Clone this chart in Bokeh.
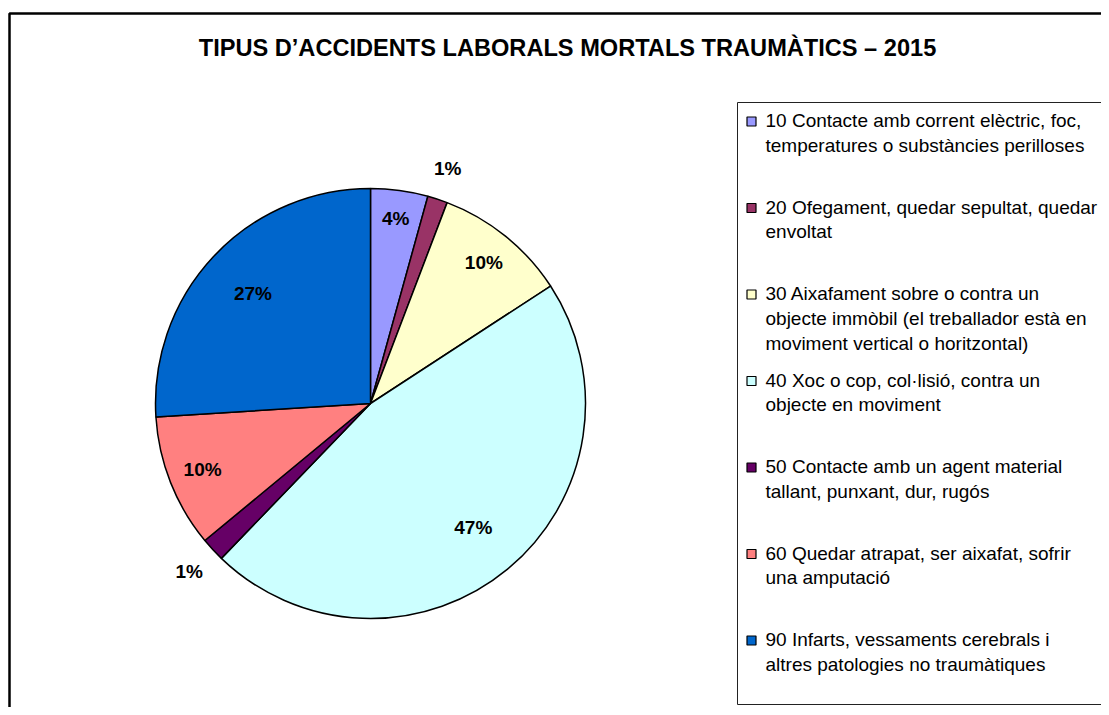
import numpy as np
from bokeh.plotting import figure
from bokeh.models import Range1d, ColumnDataSource
from bokeh.core.properties import value
from bokeh.embed import file_html
from bokeh.resources import INLINE

# ---- data ----
title = "TIPUS D\u2019ACCIDENTS LABORALS MORTALS TRAUM\u00c0TICS \u2013 2015"
categories = [
    "10 Contacte amb corrent el\u00e8ctric, foc,\ntemperatures o subst\u00e0ncies perilloses",
    "20 Ofegament, quedar sepultat, quedar\nenvoltat",
    "30 Aixafament sobre o contra un\nobjecte imm\u00f2bil (el treballador est\u00e0 en\nmoviment vertical o horitzontal)",
    "40 Xoc o cop, col\u00b7lisi\u00f3, contra un\nobjecte en moviment",
    "50 Contacte amb un agent material\ntallant, punxant, dur, rug\u00f3s",
    "60 Quedar atrapat, ser aixafat, sofrir\nuna amputaci\u00f3",
    "90 Infarts, vessaments cerebrals i\naltres patologies no traum\u00e0tiques",
]
shares = [4.3, 1.5, 10.0, 46.4, 1.8, 10.0, 26.0]
pct_labels = ["4%", "1%", "10%", "47%", "1%", "10%", "27%"]
colors = ["#9999FF", "#993366", "#FFFFCC", "#CCFFFF", "#660066", "#FF8080", "#0066CC"]

W, H = 1101, 707
FONT = "Liberation Sans"

p = figure(width=W, height=H, output_backend="svg", toolbar_location=None,
           x_range=Range1d(0, W), y_range=Range1d(H, 0), min_border=0)
p.axis.visible = False
p.grid.visible = False
p.outline_line_color = None
p.background_fill_color = "white"
p.border_fill_color = "white"

# outer chart frame
p.quad(left=[9], right=[W + 200], top=[13], bottom=[H + 200], fill_color=None,
       line_color="black", line_width=2.5)

# title
p.text(x=[567], y=[47], text=[title], text_font=value(FONT), text_font_style="bold",
       text_font_size="23.6px", text_align="center", text_baseline="middle", text_color="black")

# pie
cx, cy, r = 370, 403, 215
sh = np.array(shares)
frac = sh / sh.sum()
cum = np.concatenate([[0], np.cumsum(frac)])
start = np.pi / 2 - 2 * np.pi * cum[:-1]
end = np.pi / 2 - 2 * np.pi * cum[1:]
src = ColumnDataSource(dict(start=start, end=end, color=colors))
p.wedge(x=cx, y=cy, radius=r, start_angle="start", end_angle="end", direction="clock",
        fill_color="color", line_color="black", line_width=1.5, source=src)

mid = (cum[:-1] + cum[1:]) / 2
theta = np.pi / 2 - 2 * np.pi * mid
fac = np.where(sh < 3, 1.15, np.where(sh < 5, 0.87, np.where(sh < 20, 0.84, 0.75)))
lx = cx + fac * r * np.cos(theta)
ly = cy - fac * r * np.sin(theta)
p.text(x=lx, y=ly, text=pct_labels, text_font=value(FONT), text_font_style="bold",
       text_font_size="19px", text_align="center", text_baseline="middle", text_color="black")

# legend box
p.quad(left=[737], right=[W + 200], top=[102], bottom=[704], fill_color="white",
       line_color="#222222", line_width=1)
step, line_h = 86.5, 24.8
ys0 = 120 + step * np.arange(len(categories))
p.scatter(x=np.full(len(categories), 751), y=ys0 + 1, marker="square", size=9,
          fill_color=colors, line_color="black", line_width=1.2)
tx, ty, tt = [], [], []
for i, lab in enumerate(categories):
    for k, line in enumerate(lab.split("\n")):
        tx.append(765)
        ty.append(ys0[i] + k * line_h)
        tt.append(line)
p.text(x=tx, y=ty, text=tt, text_font=value(FONT), text_font_size="19px",
       text_align="left", text_baseline="middle", text_color="black")

open("out.html", "w").write(file_html(p, INLINE))
